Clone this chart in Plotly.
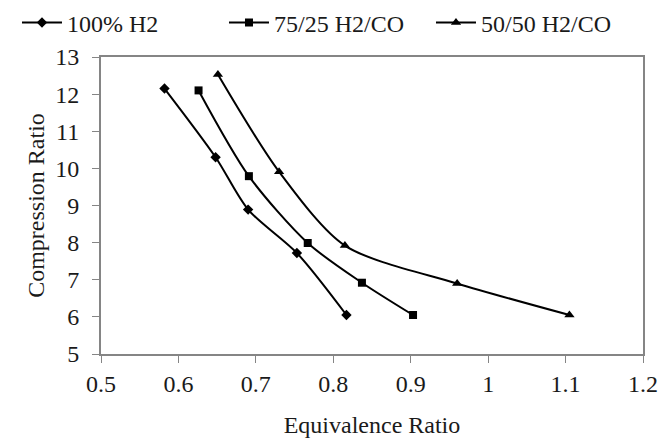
import plotly.graph_objects as go

# Data
h2_100_x = [0.582, 0.648, 0.690, 0.753, 0.817]
h2_100_y = [12.15, 10.30, 8.89, 7.72, 6.05]

h2co_75_x = [0.626, 0.691, 0.767, 0.837, 0.903]
h2co_75_y = [12.10, 9.79, 7.99, 6.92, 6.05]

h2co_50_x = [0.651, 0.730, 0.815, 0.960, 1.105]
h2co_50_y = [12.53, 9.91, 7.92, 6.90, 6.05]

series_names = ["100% H2", "75/25 H2/CO", "50/50 H2/CO"]
x_ticks = [0.5, 0.6, 0.7, 0.8, 0.9, 1.0, 1.1, 1.2]
x_ticklabels = ["0.5", "0.6", "0.7", "0.8", "0.9", "1", "1.1", "1.2"]
y_ticks = [5, 6, 7, 8, 9, 10, 11, 12, 13]

FONT = "Liberation Serif"
TXT = "#1a1a1a"

fig = go.Figure()
specs = [
    (h2_100_x, h2_100_y, "diamond", 8),
    (h2co_75_x, h2co_75_y, "square", 8),
    (h2co_50_x, h2co_50_y, "triangle-up", 9),
]
for (xs, ys, sym, sz), name in zip(specs, series_names):
    fig.add_trace(go.Scatter(
        x=xs, y=ys, name=name, mode="lines+markers",
        line=dict(color="black", width=2, shape="spline", smoothing=0.8),
        marker=dict(symbol=sym, size=sz, color="black"),
    ))

axis_common = dict(
    showgrid=False, zeroline=False, showline=True, mirror=True,
    linecolor="#858585", linewidth=2, ticks="outside", ticklen=7,
    tickcolor="#858585", tickwidth=1,
    tickfont=dict(family=FONT, size=24, color=TXT),
)

fig.update_layout(
    width=661, height=441,
    margin=dict(l=101, r=18, t=57, b=87, autoexpand=False),
    paper_bgcolor="white", plot_bgcolor="white",
    font=dict(family=FONT, size=24, color=TXT),
    showlegend=True,
    legend=dict(
        orientation="h", x=-0.155, y=1.115, xanchor="left", yanchor="middle",
        yref="paper", font=dict(family=FONT, size=24, color=TXT),
        entrywidth=152, entrywidthmode="pixels", itemwidth=40,
        bgcolor="rgba(0,0,0,0)", tracegroupgap=0,
    ),
    xaxis=dict(
        range=[0.5, 1.2], tickvals=x_ticks, ticktext=x_ticklabels,
        title=dict(text="Equivalence Ratio", standoff=20,
                   font=dict(family=FONT, size=24, color=TXT)),
        **axis_common,
    ),
    yaxis=dict(
        range=[5, 13], tickvals=y_ticks, ticklabelstandoff=8,
        title=dict(text="Compression Ratio", standoff=4,
                   font=dict(family=FONT, size=24, color=TXT)),
        **axis_common,
    ),
)

fig.write_html("out.html")
